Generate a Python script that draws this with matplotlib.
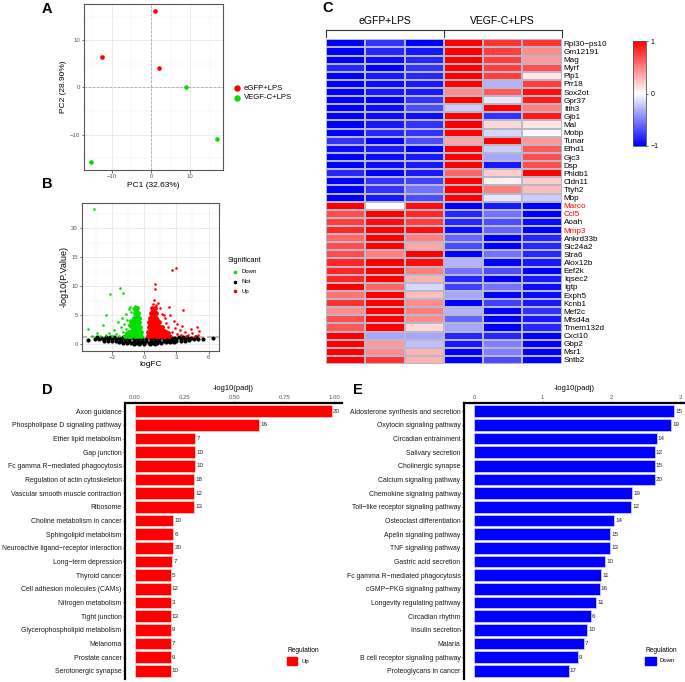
import numpy as np
import matplotlib
matplotlib.use("Agg")
import matplotlib.pyplot as plt
from matplotlib.lines import Line2D
from matplotlib.patches import Rectangle

plt.rcParams['font.family'] = ['Liberation Sans', 'DejaVu Sans']

W, H = 685, 682


def box(l, t, r, b):
    # pixel box -> figure fraction
    return [l / W, 1 - b / H, (r - l) / W, (b - t) / H]


def fx(px):
    return px / W


def fy(py):
    return 1 - py / H


# ---------------- data ----------------
# A: PCA
pca_group = ['eGFP+LPS', 'eGFP+LPS', 'eGFP+LPS', 'VEGF-C+LPS', 'VEGF-C+LPS', 'VEGF-C+LPS']
pc1 = [1.0, -12.6, 1.9, 8.9, 16.9, -15.3]
pc2 = [16.2, 6.5, 4.15, 0.0, -11.0, -15.9]

# B: volcano (logFC, -log10 P)
down_pts = [(-4.67, 23.3), (-2.27, 9.65), (-3.2, 8.67), (-2.02, 8.8), (-3.58, 5.0), (-5.23, 2.64),
            (-3.89, 3.28), (-4.92, 1.48), (-4.39, 1.9), (-3.27, 2.0), (-2.43, 3.84), (-2.1, 4.6),
            (-1.7, 5.3), (-1.4, 6.0), (-2.8, 2.4), (-2.2, 2.9), (-3.6, 1.6), (-4.1, 1.4), (-1.9, 3.5),
            (-2.6, 1.8), (-3.0, 1.5), (-1.6, 4.2), (-1.2, 5.6), (-1.1, 6.3), (-0.9, 6.6), (-0.75, 6.4),
            (-1.3, 6.5), (-2.0, 2.1), (-1.75, 2.6), (-2.35, 1.5)]
down_dense = [(-0.3, 1.5), (-0.45, 1.6), (-0.6, 1.4), (-0.75, 1.55), (-0.9, 1.45), (-1.05, 1.6),
              (-1.2, 1.4), (-1.35, 1.5), (-1.5, 1.45), (-1.65, 1.55), (-1.8, 1.4),
              (-0.35, 2.2), (-0.5, 2.3), (-0.65, 2.1), (-0.8, 2.25), (-0.95, 2.15), (-1.1, 2.3),
              (-1.25, 2.1), (-1.4, 2.2), (-0.4, 3.0), (-0.55, 2.9), (-0.7, 3.05), (-0.85, 2.95),
              (-1.0, 3.1), (-1.15, 2.9), (-0.45, 3.8), (-0.6, 3.7), (-0.75, 3.85), (-0.9, 3.75),
              (-1.05, 3.9), (-0.5, 4.6), (-0.65, 4.5), (-0.8, 4.65), (-0.95, 4.55), (-0.6, 5.4),
              (-0.75, 5.3), (-0.9, 5.45), (-0.7, 6.2), (-0.85, 6.1), (-1.3, 3.4), (-1.2, 4.1),
              (-0.4, 1.9), (-0.7, 1.8), (-1.0, 1.85), (-1.3, 1.8), (-1.6, 1.9), (-0.5, 2.6),
              (-0.8, 2.65), (-1.1, 2.6), (-0.55, 3.4), (-0.85, 3.45), (-0.6, 4.2), (-0.9, 4.15),
              (-0.7, 5.0), (-0.8, 5.8)]
up_pts = [(2.56, 12.8), (2.96, 13.2), (0.97, 10.4), (1.03, 9.5), (2.34, 6.5), (3.65, 5.9), (4.9, 2.9),
          (5.14, 2.35), (4.43, 1.9), (3.03, 3.5), (2.8, 4.0), (1.62, 5.3), (1.31, 7.07), (0.9, 7.6),
          (1.9, 4.6), (2.2, 3.0), (3.3, 2.5), (3.8, 2.2), (4.1, 1.6), (4.7, 1.5), (2.6, 2.2),
          (3.1, 1.8), (1.5, 6.2), (1.1, 6.8), (0.8, 7.0), (2.0, 3.6), (3.5, 3.1), (4.4, 2.6),
          (2.4, 5.0), (3.9, 1.4), (5.0, 1.6), (2.9, 2.8), (3.4, 1.6), (2.5, 1.5), (1.8, 5.0)]
up_dense = [(0.3, 1.5), (0.45, 1.4), (0.6, 1.55), (0.75, 1.45), (0.9, 1.6), (1.05, 1.4), (1.2, 1.5),
            (1.35, 1.45), (1.5, 1.55), (1.65, 1.4), (1.8, 1.5), (1.95, 1.45), (2.1, 1.55), (2.3, 1.4),
            (0.35, 2.2), (0.5, 2.1), (0.65, 2.3), (0.8, 2.15), (0.95, 2.25), (1.1, 2.1), (1.25, 2.3),
            (1.4, 2.2), (1.6, 2.15), (1.8, 2.3), (2.0, 2.1), (0.4, 3.0), (0.55, 2.9), (0.7, 3.1),
            (0.85, 2.95), (1.0, 3.05), (1.15, 2.9), (1.3, 3.1), (1.5, 3.0), (1.7, 2.9), (0.45, 3.8),
            (0.6, 3.7), (0.75, 3.9), (0.9, 3.75), (1.05, 3.85), (1.2, 3.7), (1.4, 3.9), (0.5, 4.6),
            (0.65, 4.5), (0.8, 4.7), (0.95, 4.55), (1.1, 4.6), (0.6, 5.4), (0.75, 5.3), (0.9, 5.5),
            (1.05, 5.35), (0.7, 6.2), (0.85, 6.1), (1.0, 6.3),
            (0.4, 1.85), (0.7, 1.8), (1.0, 1.9), (1.3, 1.8), (1.6, 1.85), (1.9, 1.8), (2.2, 1.9),
            (0.5, 2.6), (0.8, 2.65), (1.1, 2.6), (1.4, 2.6), (1.7, 2.55), (0.55, 3.4), (0.85, 3.45),
            (1.15, 3.35), (0.6, 4.2), (0.9, 4.15), (1.2, 4.25), (0.7, 5.0), (0.95, 4.95), (0.8, 5.8)]
not_pts = [(-4.4, 1.2), (-4.0, 1.15), (-3.6, 1.22), (-3.2, 1.18), (-2.8, 1.2), (-2.4, 1.15), (-2.0, 1.2),
           (-1.6, 1.17), (-1.2, 1.2), (-0.8, 1.15), (-0.4, 1.2), (0.4, 1.18), (0.8, 1.2), (1.2, 1.15),
           (1.6, 1.2), (2.0, 1.17), (2.4, 1.2), (2.8, 1.15), (3.2, 1.2), (3.6, 1.18), (4.0, 1.2),
           (4.4, 1.15), (4.8, 1.2),
           (-4.6, 0.9), (-4.2, 0.85), (-3.8, 0.92), (-3.4, 0.88), (-3.0, 0.9), (-2.6, 0.86), (-2.2, 0.9),
           (-1.8, 0.88), (-1.4, 0.92), (-1.0, 0.87), (-0.6, 0.9), (-0.2, 0.85), (0.2, 0.9), (0.6, 0.88),
           (1.0, 0.9), (1.4, 0.86), (1.8, 0.92), (2.2, 0.88), (2.6, 0.9), (3.0, 0.87), (3.4, 0.9),
           (3.8, 0.88), (4.2, 0.92), (4.6, 0.87), (5.0, 0.95),
           (-3.8, 0.62), (-3.4, 0.58), (-3.0, 0.6), (-2.6, 0.57), (-2.2, 0.6), (-1.8, 0.58), (-1.4, 0.62),
           (-1.0, 0.6), (-0.6, 0.57), (-0.2, 0.6), (0.2, 0.58), (0.6, 0.6), (1.0, 0.62), (1.4, 0.58),
           (1.8, 0.6), (2.2, 0.57), (2.6, 0.6), (3.0, 0.62), (3.4, 0.6), (3.8, 0.65), (4.2, 0.7),
           (-2.4, 0.32), (-2.0, 0.3), (-1.6, 0.28), (-1.2, 0.3), (-0.8, 0.27), (-0.4, 0.3), (0.0, 0.28),
           (0.4, 0.3), (0.8, 0.27), (1.2, 0.3), (1.6, 0.28), (2.0, 0.32), (2.4, 0.35), (2.8, 0.4),
           (-1.0, 0.12), (-0.5, 0.08), (0.0, 0.05), (0.5, 0.08), (1.0, 0.12),
           (-5.23, 0.74), (5.5, 0.86), (6.39, 1.03)]

# C: heatmap
genes = ['Rpl30−ps10', 'Gm12191', 'Mag', 'Myrf', 'Plp1', 'Prr18', 'Sox2ot', 'Gpr37', 'Itih3', 'Gjb1',
         'Mal', 'Mobp', 'Tunar', 'Efhd1', 'Gjc3', 'Dsp', 'Phldb1', 'Cldn11', 'Ttyh2', 'Mbp',
         'Marco', 'Ccl5', 'Aoah', 'Mmp3', 'Ankrd33b', 'Slc24a2', 'Stra6', 'Alox12b', 'Eef2k', 'Iqsec2',
         'Igtp', 'Exph5', 'Kcnb1', 'Mef2c', 'Mfsd4a', 'Tmem132d', 'Cxcl10', 'Gbp2', 'Msr1', 'Sntb2']
highlight_genes = ['Marco', 'Ccl5', 'Mmp3']
groups = ['eGFP+LPS', 'VEGF-C+LPS']
expr = [
    [-1.0, -0.8, -1.0, 1.0, 0.8, 0.8],
    [-1.0, -0.85, -0.9, 1.0, 0.75, 0.45],
    [-1.0, -0.95, -0.85, 1.0, 0.75, 0.4],
    [-0.85, -1.0, -0.8, 1.0, 0.75, 0.7],
    [-1.0, -0.9, -0.85, 1.0, 0.75, 0.1],
    [-1.0, -0.95, -0.9, 1.0, -0.3, 0.75],
    [-1.0, -0.9, -0.9, 0.45, 0.65, 0.95],
    [-1.0, -1.0, -0.8, 1.0, -0.1, 0.9],
    [-1.0, -0.95, -0.7, -0.2, 1.0, 0.5],
    [-1.0, -0.95, -0.95, 1.0, -0.8, 0.9],
    [-1.0, -0.9, -0.8, 1.0, 0.15, 0.1],
    [-1.0, -0.85, -0.8, 1.0, -0.15, 0.02],
    [-0.8, -1.0, -0.7, 0.35, 1.0, 0.4],
    [-0.95, -0.9, -1.0, 1.0, -0.2, 0.65],
    [-1.0, -0.95, -0.9, 1.0, -0.35, 0.7],
    [-1.0, -0.95, -0.9, 1.0, -0.9, 0.7],
    [-0.85, -1.0, -0.9, 0.6, 0.2, 1.0],
    [-1.0, -0.8, -0.75, 1.0, 0.05, 0.2],
    [-1.0, -0.8, -0.55, 1.0, 0.5, 0.25],
    [-1.0, -0.9, -0.7, 1.0, -0.1, -0.2],
    [1.0, 0.0, 0.95, -1.0, -0.9, -1.0],
    [0.7, 1.0, 0.85, -0.85, -0.55, -1.0],
    [0.75, 0.95, 0.75, -0.85, -0.7, -0.95],
    [0.85, 1.0, 0.95, -0.95, -0.6, -1.0],
    [0.6, 1.0, 0.5, -0.6, -1.0, -0.85],
    [0.7, 1.0, 0.35, -0.7, -1.0, -0.85],
    [0.7, 0.5, 1.0, -1.0, -0.55, -0.85],
    [0.85, 1.0, 0.95, -0.3, -1.0, -0.9],
    [0.85, 1.0, 0.5, -0.55, -0.7, -1.0],
    [0.85, 1.0, 0.3, -0.85, -1.0, -0.9],
    [1.0, 0.6, -0.15, -0.75, -0.55, -0.95],
    [0.55, 1.0, 0.25, -0.35, -1.0, -0.95],
    [0.8, 1.0, 0.45, -1.0, -0.75, -0.9],
    [0.45, 1.0, 0.5, -0.3, -1.0, -0.8],
    [0.7, 1.0, 0.45, -0.6, -1.0, -0.9],
    [0.65, 1.0, 0.15, -0.35, -1.0, -0.85],
    [1.0, -0.35, -0.35, -0.85, -0.85, -1.0],
    [1.0, 0.4, -0.25, -0.9, -0.5, -1.0],
    [1.0, 0.45, 0.3, -1.0, -0.5, -1.0],
    [1.0, 0.8, 0.3, -1.0, -0.7, -1.0],
]

# D: KEGG up
up_terms = ['Axon guidance', 'Phospholipase D signaling pathway', 'Ether lipid metabolism', 'Gap junction',
            'Fc gamma R−mediated phagocytosis', 'Regulation of actin cytoskeleton',
            'Vascular smooth muscle contraction', 'Ribosome', 'Choline metabolism in cancer',
            'Sphingolipid metabolism', 'Neuroactive ligand−receptor interaction', 'Long−term depression',
            'Thyroid cancer', 'Cell adhesion molecules (CAMs)', 'Nitrogen metabolism', 'Tight junction',
            'Glycerophospholipid metabolism', 'Melanoma', 'Prostate cancer', 'Serotonergic synapse']
up_padj = [0.99, 0.625, 0.303, 0.303, 0.303, 0.298, 0.298, 0.298, 0.193, 0.193, 0.193, 0.188,
           0.18, 0.18, 0.18, 0.18, 0.18, 0.18, 0.18, 0.18]
up_count = [20, 16, 7, 10, 10, 18, 12, 13, 10, 6, 20, 7, 5, 12, 3, 13, 9, 7, 9, 10]

# E: KEGG down
down_terms = ['Aldosterone synthesis and secretion', 'Oxytocin signaling pathway', 'Circadian entrainment',
              'Salivary secretion', 'Cholinergic synapse', 'Calcium signaling pathway',
              'Chemokine signaling pathway', 'Toll−like receptor signaling pathway', 'Osteoclast differentiation',
              'Apelin signaling pathway', 'TNF signaling pathway', 'Gastric acid secretion',
              'Fc gamma R−mediated phagocytosis', 'cGMP−PKG signaling pathway', 'Longevity regulating pathway',
              'Circadian rhythm', 'Insulin secretion', 'Malaria', 'B cell receptor signaling pathway',
              'Proteoglycans in cancer']
down_padj = [2.91, 2.87, 2.66, 2.63, 2.63, 2.63, 2.30, 2.29, 2.04, 1.98, 1.98, 1.91, 1.85, 1.83,
             1.78, 1.70, 1.65, 1.60, 1.51, 1.38]
down_count = [15, 19, 14, 12, 15, 20, 19, 12, 14, 15, 13, 10, 11, 16, 11, 6, 10, 7, 9, 17]

RED = '#ff0000'
GREEN = '#00e000'
BLUE = '#0000ff'

fig = plt.figure(figsize=(6.85, 6.82), dpi=100)


def gg_theme(ax):
    ax.set_facecolor('white')
    ax.grid(True, which='major', color='#e6e6e6', lw=0.6, zorder=0)
    ax.grid(True, which='minor', color='#efefef', lw=0.35, zorder=0)
    ax.set_axisbelow(True)
    for s in ax.spines.values():
        s.set_color('#5a5550')
        s.set_linewidth(0.8)
    ax.tick_params(which='major', length=1.8, width=0.5, color='#333333', labelsize=4.3,
                   labelcolor='#555555', pad=1)
    ax.tick_params(which='minor', length=0)


# ---------------- A: PCA ----------------
axA = fig.add_axes(box(84, 4, 223.3, 170))
gg_theme(axA)
axA.set_xlim(-17.1, 18.4)
axA.set_ylim(-17.5, 17.65)
axA.set_xticks([-10, 0, 10])
axA.set_yticks([-10, 0, 10])
axA.set_xticks([-15, -5, 5, 15], minor=True)
axA.set_yticks([-15, -5, 5, 15], minor=True)
axA.axvline(0, color='#aaaaaa', ls=(0, (3, 2)), lw=0.6, zorder=1)
axA.axhline(0, color='#aaaaaa', ls=(0, (3, 2)), lw=0.6, zorder=1)
for g, c in zip(groups, [RED, GREEN]):
    xs = [x for x, gg in zip(pc1, pca_group) if gg == g]
    ys = [y for y, gg in zip(pc2, pca_group) if gg == g]
    axA.scatter(xs, ys, s=11, color=c, zorder=3, linewidths=0)
axA.set_xlabel('PC1 (32.63%)', fontsize=6, labelpad=2)
axA.set_ylabel('PC2 (28.90%)', fontsize=6, labelpad=2)
for i, (g, c) in enumerate(zip(groups, [RED, GREEN])):
    fig.add_artist(Line2D([fx(236.7)], [fy(88 + 9.7 * i)], marker='o', ms=3.6, color=c, lw=0,
                          transform=fig.transFigure))
    fig.text(fx(244), fy(88 + 9.7 * i), g, fontsize=5.6, va='center', ha='left')

# ---------------- B: volcano ----------------
axB = fig.add_axes(box(81.7, 202.7, 219, 350.7))
gg_theme(axB)
axB.set_xlim(-5.85, 6.98)
axB.set_ylim(-1.1, 24.4)
axB.set_xticks([-3, 0, 3, 6])
axB.set_yticks([0, 5, 10, 15, 20])
axB.set_xticks([-4.5, -1.5, 1.5, 4.5], minor=True)
axB.set_yticks([2.5, 7.5, 12.5, 17.5, 22.5], minor=True)
axB.axhline(1.3, color='#b0b0b0', ls=(0, (3, 2)), lw=1.2, zorder=1)
axB.scatter([p[0] for p in not_pts], [p[1] for p in not_pts], s=9, color='black', lw=0, zorder=2)
axB.scatter([p[0] for p in down_dense], [p[1] for p in down_dense], s=12, color=GREEN, lw=0, zorder=3)
axB.scatter([p[0] for p in down_pts], [p[1] for p in down_pts], s=3.5, color=GREEN, lw=0, zorder=3)
axB.scatter([p[0] for p in up_dense], [p[1] for p in up_dense], s=12, color=RED, lw=0, zorder=3)
axB.scatter([p[0] for p in up_pts], [p[1] for p in up_pts], s=3.5, color=RED, lw=0, zorder=3)
axB.set_xlabel('logFC', fontsize=6, labelpad=1)
axB.set_ylabel('-log10(P.Value)', fontsize=6.5, labelpad=2)
fig.text(fx(228), fy(261), 'Significant', fontsize=5.3, va='center', ha='left')
for i, (lab, c) in enumerate(zip(['Down', 'Not', 'Up'], [GREEN, 'black', RED])):
    yy = 271.7 + 9.8 * i
    fig.add_artist(Line2D([fx(235)], [fy(yy)], marker='o', ms=1.6, color=c, lw=0,
                          transform=fig.transFigure))
    fig.text(fx(241), fy(yy), lab, fontsize=4.3, va='center', ha='left')

# ---------------- C: heatmap ----------------
axC = fig.add_axes(box(326, 39.3, 561.7, 364))
data = np.array(expr)
im = axC.pcolormesh(np.arange(7), np.arange(len(genes) + 1), data, cmap='bwr', vmin=-1, vmax=1,
                    edgecolors='#b8b8c8', linewidth=0.12)
axC.set_xlim(0, 6)
axC.set_ylim(len(genes), 0)
axC.set_xticks([])
axC.set_yticks(np.arange(len(genes)) + 0.5)
axC.set_yticklabels(genes, fontsize=5.9)
axC.yaxis.tick_right()
axC.tick_params(axis='y', length=0, pad=1.5)
for lab in axC.get_yticklabels():
    if lab.get_text() in highlight_genes:
        lab.set_color(RED)
for s in axC.spines.values():
    s.set_visible(False)

# group bracket
fig.add_artist(Line2D([fx(326), fx(561.7)], [fy(30), fy(30)], color='#333333', lw=0.8,
                      transform=fig.transFigure))
for xb in [326, 443.8, 561.7]:
    fig.add_artist(Line2D([fx(xb), fx(xb)], [fy(30), fy(37)], color='#333333', lw=0.8,
                          transform=fig.transFigure))
fig.text(fx(384.6), fy(21.5), groups[0], fontsize=7.5, ha='center', va='center')
fig.text(fx(502.7), fy(21.5), groups[1], fontsize=7.5, ha='center', va='center')

cax = fig.add_axes(box(633, 41, 646, 146))
cb = fig.colorbar(im, cax=cax, ticks=[-1, 0, 1])
cb.ax.set_yticklabels(['−1', '0', '1'])
cb.ax.tick_params(labelsize=5, length=1.5, width=0.4, pad=2)
cb.outline.set_linewidth(0.6)
cb.outline.set_edgecolor('#555555')


# ---------------- D / E: enrichment bars ----------------
def bar_panel(rect, terms, vals, counts, color, edge, xlim, xticks, xticklabels, off):
    ax = fig.add_axes(rect)
    y = np.arange(len(terms))
    ax.barh(y, vals, height=0.86, color=color, edgecolor=edge, linewidth=0.6, zorder=2)
    for yi, v, c in zip(y, vals, counts):
        ax.text(v + off, yi, str(c), fontsize=4.5, va='center', ha='left', color='#222222')
    ax.set_xlim(*xlim)
    ax.set_ylim(len(terms) - 0.4, -0.6)
    ax.set_yticks(y)
    ax.set_yticklabels(terms, fontsize=4.95, color='#1a1a1a')
    ax.xaxis.tick_top()
    ax.xaxis.set_label_position('top')
    ax.set_xticks(xticks)
    ax.set_xticklabels(xticklabels)
    ax.set_xlabel('-log10(padj)', fontsize=5.5, labelpad=3)
    ax.tick_params(axis='x', labelsize=4.3, labelcolor='#555555', length=1.5, width=0.4, pad=1)
    ax.tick_params(axis='y', length=1.5, width=0.5, pad=1)
    for s in ['right', 'bottom']:
        ax.spines[s].set_visible(False)
    for s in ['top', 'left']:
        ax.spines[s].set_linewidth(1.6)
        ax.spines[s].set_color('black')
    return ax


bar_panel(box(125, 403, 342, 679), up_terms, up_padj, up_count, RED, '#ffc8c8',
          (-0.0495, 1.04), [0, 0.25, 0.5, 0.75, 1.0], ['0.00', '0.25', '0.50', '0.75', '1.00'], 0.005)
bar_panel(box(464, 403, 684, 679), down_terms, down_padj, down_count, BLUE, '#c8c8ff',
          (-0.1455, 3.056), [0, 1, 2, 3], ['0', '1', '2', '3'], 0.015)

# legends
fig.text(fx(287), fy(651), 'Regulation', fontsize=4.8, va='center', ha='left')
fig.add_artist(Rectangle((fx(287), fy(665)), 10 / W, 8 / H, color=RED, transform=fig.transFigure))
fig.text(fx(301), fy(661), 'Up', fontsize=4.3, va='center', ha='left')
fig.text(fx(645), fy(651), 'Regulation', fontsize=4.8, va='center', ha='left')
fig.add_artist(Rectangle((fx(645), fy(665)), 10.5 / W, 8 / H, color=BLUE, transform=fig.transFigure))
fig.text(fx(660), fy(661), 'Down', fontsize=4.3, va='center', ha='left')

# panel letters
for lab, (px, py) in {'A': (47, 9), 'B': (47, 184), 'C': (328, 8), 'D': (47, 390), 'E': (358, 390)}.items():
    fig.text(fx(px), fy(py), lab, fontsize=10.5, fontweight='bold', ha='center', va='center')

fig.savefig('out.png', dpi=100)
